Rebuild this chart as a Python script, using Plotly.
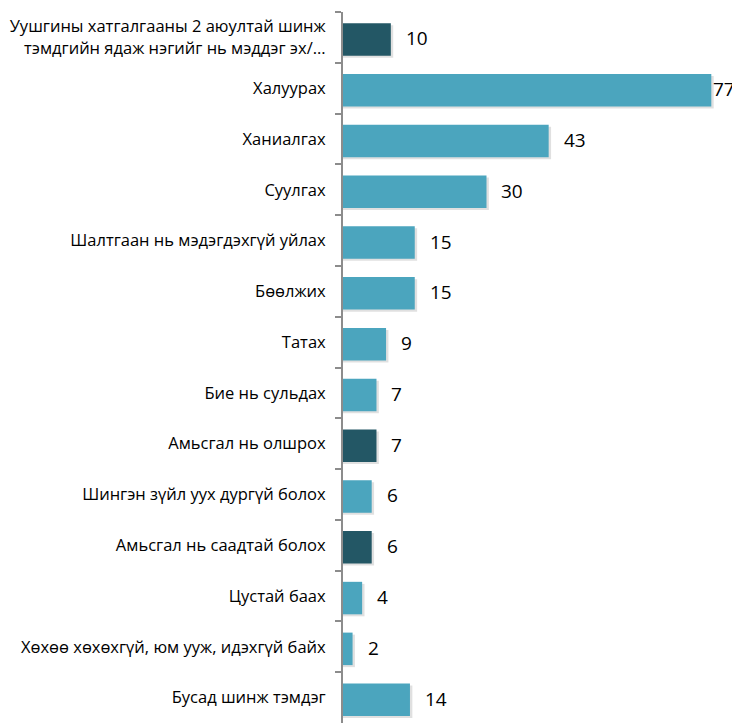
import plotly.graph_objects as go

categories = [
    "Уушгины хатгалгааны 2 аюултай шинж<br>тэмдгийн ядаж нэгийг нь мэддэг эх/...",
    "Халуурах",
    "Ханиалгах",
    "Суулгах",
    "Шалтгаан нь мэдэгдэхгүй уйлах",
    "Бөөлжих",
    "Татах",
    "Бие нь сульдах",
    "Амьсгал нь олшрох",
    "Шингэн зүйл уух дургүй болох",
    "Амьсгал нь саадтай болох",
    "Цустай баах",
    "Хөхөө хөхөхгүй, юм ууж, идэхгүй байх",
    "Бусад шинж тэмдэг",
]
values = [10, 77, 43, 30, 15, 15, 9, 7, 7, 6, 6, 4, 2, 14]
dark_flags = [True, False, False, False, False, False, False, False, True, False, True, False, False, False]

DARK = "#235765"
LIGHT = "#4BA5BE"
colors = [DARK if d else LIGHT for d in dark_flags]

fig = go.Figure()
# soft shadow
fig.add_trace(go.Bar(
    y=categories, x=[v + 0.5 for v in values], orientation="h",
    marker=dict(color="rgba(0,0,0,0.12)", line=dict(width=0)),
    width=0.64, offset=-0.24, hoverinfo="skip", showlegend=False,
))
fig.add_trace(go.Bar(
    y=categories, x=values, orientation="h",
    marker=dict(color=colors, line=dict(width=0)),
    width=0.64, offset=-0.28, showlegend=False,
))

vmax = max(values)
for c, v in zip(categories, values):
    fig.add_annotation(
        x=v, y=c, text=str(v), showarrow=False, xanchor="left",
        xshift=0 if v == vmax else 13, yshift=-1,
        font=dict(family="Open Sans", size=19, color="#000000"),
    )

# page body has an 8px margin, so the figure is 8px smaller than the window
fig.update_layout(
    width=732, height=715,
    margin=dict(l=335, r=0, t=4, b=0),
    paper_bgcolor="white", plot_bgcolor="white",
    barmode="overlay",
    font=dict(family="Open Sans", size=16.5, color="#000000"),
)
fig.update_xaxes(range=[0, 83], visible=False, fixedrange=True)
fig.update_yaxes(
    type="category", range=[13.5, -0.5], tickson="boundaries",
    showline=True, linecolor="#8c8c8c", linewidth=2,
    ticks="outside", ticklen=6, tickcolor="#8c8c8c", tickwidth=1.5,
    showgrid=False, ticklabelstandoff=12,
    tickfont=dict(family="Open Sans", size=16.5, color="#000000"),
)

fig.write_html("out.html")
